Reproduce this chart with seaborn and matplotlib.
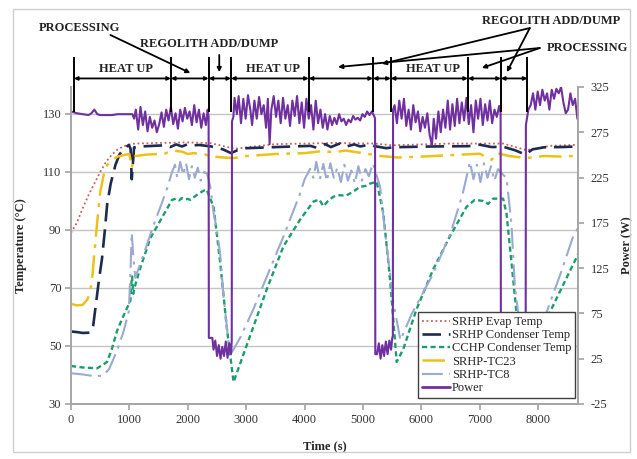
import matplotlib
matplotlib.use("Agg")
import matplotlib.pyplot as plt
from matplotlib.patches import Rectangle
from matplotlib.lines import Line2D
import seaborn as sns
import pandas as pd

# ---- data ------------------------------------------------------------------
evap_t = [0, 100, 200, 300, 400, 500, 600, 700, 800, 900, 1000, 1100, 1500, 2000,
          2400, 2800, 3500, 4500, 5200, 5500, 6500, 7400, 7800, 8200, 8690]
evap_temp = [89, 92.5, 97.5, 102, 106, 110, 113.5, 116, 117.8, 118.8, 119.5, 119.8, 120,
             120.2, 119.9, 118, 119.6, 120, 119.8, 119.2, 119.8, 119.8, 117.5, 119, 119.4]

cond_t = [0, 100, 200, 330, 380, 430, 480, 530, 580, 620, 680, 760, 830, 900, 990, 1020,
          1040, 1060, 1080, 1200, 1400, 1600, 1700, 1800, 1900, 2000, 2100, 2200, 2400,
          2600, 2740, 2850, 3000, 3400, 3800, 4100, 4200, 4350, 4450, 4600, 4700, 4850,
          4950, 5100, 5200, 5400, 5500, 5700, 6200, 6800, 7000, 7200, 7400, 7600, 7780,
          7900, 8100, 8400, 8690]
cond_temp = [55, 54.8, 54.5, 54.6, 57, 65, 73, 80, 90, 99, 106, 112.4, 116, 118, 119.3,
             118, 107.5, 113, 118.5, 118.8, 119, 119.2, 118.6, 119.5, 118.8, 119.6, 119.2,
             119.3, 118.8, 117.8, 116.5, 117.5, 118.2, 118.5, 118.8, 119, 118.4, 119.6,
             118.6, 119.8, 118.7, 119.5, 118.8, 119.4, 118.9, 118.2, 118.5, 118.6, 118.8,
             118.9, 119.4, 118.6, 118.7, 117.5, 116, 117.8, 118.5, 118.6, 118.8]

cchp_t = [0, 200, 448, 618, 700, 790, 900, 1017, 1035, 1046, 1065, 1100, 1188, 1359,
          1587, 1730, 1800, 1850, 1900, 1950, 2000, 2043, 2150, 2265, 2320, 2380, 2441,
          2555, 2669, 2783, 3068, 3354, 3638, 3923, 4151, 4250, 4322, 4400, 4493, 4600,
          4700, 4778, 4850, 4950, 5050, 5120, 5234, 5348, 5462, 5576, 5690, 5918, 6202,
          6487, 6772, 6914, 7056, 7142, 7227, 7398, 7456, 7570, 7627, 7780, 8197, 8690]
cchp_temp = [43.1, 42.6, 42.3, 44.5, 49, 55.3, 60.5, 65.6, 72, 74, 68, 71, 77, 87.2, 95.3,
             100.4, 100.8, 100.2, 101, 100.5, 100.7, 100.4, 102, 103.5, 104, 101, 98, 78.6,
             56, 37.6, 53.6, 69.7, 84.4, 93.6, 99.8, 100.5, 98.2, 100, 101.5, 102, 101.8,
             102.6, 103.5, 104.9, 105.2, 106, 106.6, 95.7, 73, 44.5, 49, 62.8, 76.5, 87.8,
             98, 100.4, 100, 99, 100.8, 100.8, 95.7, 73, 61.6, 44, 61.6, 82]

tc23_t = [0, 100, 200, 280, 330, 370, 400, 450, 500, 560, 620, 700, 800, 900, 1000, 1040,
          1070, 1100, 1300, 1600, 1750, 1900, 2000, 2100, 2300, 2400, 2600, 2800, 3000,
          3500, 4000, 4300, 4500, 4700, 5000, 5300, 5600, 6000, 6500, 7000, 7200, 7300,
          7500, 7800, 8100, 8400, 8690]
tc23_temp = [64.5, 64, 64.2, 66, 69, 75, 82, 93, 103, 109, 112.4, 114.2, 115.3, 115.8,
             116.2, 111.5, 114, 115.5, 116, 116.3, 117.4, 117, 116.2, 116.5, 116, 115.4, 115,
             114.8, 115.5, 116.2, 116.5, 117.2, 116.8, 117.4, 116.5, 115.5, 115, 115.3,
             115.8, 116.3, 114.2, 116.5, 115.5, 114.8, 115.5, 115.3, 115.6]

tc8_t = [0, 200, 400, 550, 650, 790, 900, 990, 1017, 1040, 1070, 1100, 1250, 1400, 1550,
         1645, 1730, 1780, 1820, 1870, 1920, 1970, 2020, 2070, 2120, 2170, 2220, 2280, 2330,
         2384, 2440, 2498, 2555, 2612, 2697, 2760, 2900, 3125, 3354, 3638, 3923, 4000,
         4094, 4150, 4200, 4260, 4320, 4380, 4440, 4500, 4560, 4620, 4680, 4740, 4800,
         4860, 4920, 4980, 5040, 5100, 5170, 5230, 5291, 5405, 5519, 5640, 5832, 6202,
         6500, 6700, 6772, 6830, 6890, 6950, 7010, 7070, 7130, 7190, 7250, 7310, 7400,
         7456, 7541, 7598, 7700, 7780, 7900, 8141, 8400, 8597, 8690]
tc8_temp = [40.6, 40.2, 39.6, 39.8, 42, 48.5, 55, 62, 75, 89, 80, 73.5, 82, 91, 99, 104.3,
            110, 112.5, 108, 113.5, 109, 113, 107.5, 112, 108, 111.5, 107, 110, 109.4, 104.9,
            96, 90, 81.6, 67, 51.3, 48, 53, 62.8, 74, 87.8, 102.6, 107.5, 111.1, 108, 113.5,
            107.5, 112.8, 106.8, 113, 108, 111.5, 106.5, 112.5, 107, 110.5, 106, 112, 107,
            111, 108.5, 113, 109, 105, 84.4, 65, 52, 61, 75, 89, 102, 108.3, 113.5, 107.5,
            112.5, 106.5, 113, 108, 112, 107, 111, 109, 108, 92, 71, 54, 50, 53, 61.6, 76,
            87.8, 91]

power_t = [0, 50, 100, 200, 300, 350, 400, 450, 500, 600, 700, 800, 900, 1000, 1050,
           1080, 1110, 1150, 1190, 1230, 1270, 1310, 1350, 1390, 1430, 1470, 1510, 1550,
           1590, 1630, 1670, 1710, 1750, 1790, 1830, 1870, 1910, 1950, 1990, 2030, 2070,
           2110, 2150, 2190, 2230, 2270, 2310, 2340, 2356,
           2360, 2420, 2440, 2470, 2500, 2530, 2560, 2590, 2620, 2650, 2680, 2710, 2740, 2752,
           2756, 2780, 2800, 2840, 2870, 2910, 2950, 2990, 3030, 3070, 3100, 3140, 3180,
           3220, 3260, 3300, 3340, 3370, 3400, 3430, 3470, 3510, 3550, 3590, 3630, 3670,
           3710, 3750, 3790, 3830, 3870, 3910, 3950, 3990, 4030, 4070, 4110, 4150, 4190,
           4230, 4270, 4310, 4350, 4390, 4430, 4470, 4510, 4550, 4590, 4630, 4670, 4710,
           4750, 4790, 4830, 4870, 4910, 4950, 4990, 5030, 5070, 5110, 5150, 5190, 5205,
           5210, 5240, 5270, 5300, 5330, 5360, 5390, 5420, 5450, 5480, 5500, 5510,
           5514, 5540, 5580, 5620, 5660, 5700, 5740, 5780, 5820, 5860, 5900, 5940, 5980,
           6020, 6060, 6100, 6140, 6180, 6210, 6250, 6290, 6330, 6370, 6410, 6450, 6490,
           6530, 6570, 6610, 6650, 6690, 6730, 6770, 6810, 6850, 6890, 6930, 6970, 7010,
           7050, 7090, 7130, 7170, 7210, 7250, 7290, 7330, 7355,
           7360, 7400, 7450, 7500, 7550, 7600, 7650, 7700, 7750, 7784,
           7788, 7830, 7870, 7910, 7950, 7990, 8030, 8070, 8110, 8150, 8190, 8230, 8270,
           8310, 8350, 8390, 8430, 8470, 8510, 8550, 8590, 8630, 8670, 8690]
power_w = [298, 297, 296, 295, 294, 296, 300, 295, 294, 294, 294, 295, 295, 295, 295,
           290, 300, 278, 303, 283, 298, 276, 292, 280, 288, 275, 284, 297, 281, 300, 288,
           303, 284, 296, 279, 300, 287, 302, 290, 298, 283, 305, 286, 300, 280, 296, 283,
           300, 292,
           48, 48, 35, 45, 28, 40, 25, 38, 28, 44, 26, 42, 30, 45,
           287, 292, 313, 295, 315, 285, 312, 290, 316, 300, 283, 310, 290, 314, 295, 305,
           280, 312, 262, 300, 315, 292, 310, 285, 313, 290, 305, 282, 310, 293, 315, 285,
           308, 280, 312, 290, 305, 278, 310, 285, 300, 280, 295, 278, 293, 283, 291, 284,
           295, 287, 290, 283, 289, 286, 293, 289, 291, 288, 295, 292, 298, 294, 298, 293,
           290,
           30, 30, 42, 25, 40, 28, 44, 30, 45, 35, 48, 50,
           300, 305, 285, 310, 290, 312, 282, 300, 278, 305, 286, 298, 276, 292, 280, 296,
           272, 261, 290, 268, 298, 275, 300, 280, 310, 278, 306, 282, 312, 285, 308, 288,
           313, 284, 305, 275, 310, 290, 312, 283, 306, 288, 310, 285, 300, 292, 304, 296,
           45, 35, 28, 40, 30, 42, 28, 38, 30, 45,
           283, 300, 305, 318, 300, 320, 305, 322, 310, 318, 300, 322, 312, 323, 318, 325,
           308, 296, 300, 318, 305, 312, 290, 288]

# phase boundaries (s) and the text over the top of the chart
phase_edges = [50, 1710, 2356, 2740, 4070, 5170, 5475, 6795, 7360, 7815]
heat_up_phases = [0, 3, 6]

sns.set_theme(style="white")
plt.rcParams["font.family"] = ["Liberation Serif", "DejaVu Serif"]
plt.rcParams["axes.unicode_minus"] = False

fig = plt.figure(figsize=(6.37, 4.59), dpi=100)
ax = fig.add_axes([71 / 637, 55 / 459, 507 / 637, 317 / 459])
ax2 = ax.twinx()

series = [
    ("SRHP Evap Temp", evap_t, evap_temp, dict(color="#c8605a", lw=1.3, linestyle=(0, (1, 1.5)))),
    ("SRHP Condenser Temp", cond_t, cond_temp, dict(color="#1f2a50", lw=1.9, linestyle=(0, (7, 3)))),
    ("CCHP Condenser Temp", cchp_t, cchp_temp, dict(color="#1c9e6c", lw=1.7, linestyle=(0, (2.2, 1.4)))),
    ("SRHP-TC23", tc23_t, tc23_temp, dict(color="#eec11a", lw=1.8, linestyle=(0, (9, 3, 1.5, 3)))),
    ("SRHP-TC8", tc8_t, tc8_temp, dict(color="#9aabcf", lw=1.5, linestyle=(0, (10, 3, 1.5, 3)))),
]
handles = []
for name, t, v, style in series:
    df = pd.DataFrame({"t": t, "v": v})
    sns.lineplot(data=df, x="t", y="v", ax=ax, estimator=None, sort=False, **style)
    handles.append(Line2D([], [], label=name, **style))

pw = pd.DataFrame({"t": power_t, "w": power_w})
sns.lineplot(data=pw, x="t", y="w", ax=ax2, estimator=None, sort=False, color="#7030a0", lw=1.5)
handles.append(Line2D([], [], color="#7030a0", lw=2, label="Power"))

ax.set_xlim(0, 8680)
ax.set_ylim(30, 139.3)
ax2.set_ylim(-25, 325)
ax.set_xticks(range(0, 9000, 1000))
ax.set_yticks(range(30, 140, 20))
ax2.set_yticks(range(-25, 326, 50))
ax.grid(axis="y", color="#c4c4c4", lw=1)
ax.grid(axis="x", visible=False)
ax2.grid(False)

for a in (ax, ax2):
    for s in a.spines.values():
        s.set_color("#a6a6a6")
    a.spines["top"].set_visible(False)
    a.tick_params(labelsize=9, colors="#333333", length=4, direction="out")
ax.tick_params(axis="both", which="both", bottom=True, left=True, color="#a6a6a6", pad=3)
ax2.tick_params(axis="y", right=True, color="#a6a6a6", pad=5)

ax.set_xlabel("Time (s)", fontsize=9, fontweight="bold")
ax.set_ylabel("Temperature (°C)", fontsize=9, fontweight="bold")
ax2.set_ylabel("Power (W)", fontsize=9, fontweight="bold")
ax.xaxis.set_label_coords(0.5, -0.114)
ax.yaxis.set_label_coords(-0.087, 0.5)
ax2.yaxis.set_label_coords(1.085, 0.5)

leg = ax2.legend(handles=handles, loc="lower right", bbox_to_anchor=(0.994, 0.019),
                 borderaxespad=0, fontsize=9, fancybox=False, handlelength=2.3,
                 handletextpad=0.1, labelspacing=0.1, borderpad=0.3, framealpha=1)
leg.get_frame().set_edgecolor("#404040")
leg.get_frame().set_linewidth(1)

# phase annotations above the plot
tr = ax2.get_xaxis_transform()
ax2.vlines(phase_edges, 0.922, 1.096, transform=tr, color="black", lw=1.4, clip_on=False)
for a, b in zip(phase_edges[:-1], phase_edges[1:]):
    ax2.annotate("", xy=(a, 1.027), xytext=(b, 1.027), xycoords=tr, annotation_clip=False,
                 arrowprops=dict(arrowstyle="<|-|>", color="black", lw=1.3, mutation_scale=5,
                                 shrinkA=0, shrinkB=0))
for i in heat_up_phases:
    ax2.text((phase_edges[i] + phase_edges[i + 1]) / 2 + 60, 1.056, "HEAT UP", transform=tr,
             ha="center", va="center", fontsize=9, fontweight="bold", color="#222222")

txt = dict(fontsize=9, fontweight="bold", color="#222222", transform=tr, va="center")
arrow = dict(arrowstyle="-|>", color="black", lw=1.3, mutation_scale=6, shrinkA=0, shrinkB=0)
ax2.text(145, 1.186, "PROCESSING", ha="center", **txt)
ax2.annotate("", xy=(2043, 1.044), xytext=(675, 1.164), xycoords=tr, annotation_clip=False,
             arrowprops=arrow)
ax2.text(2367, 1.136, "REGOLITH ADD/DUMP", ha="center", **txt)
ax2.annotate("", xy=(2538, 1.047), xytext=(2538, 1.101), xycoords=tr, annotation_clip=False,
             arrowprops=arrow)
ax2.text(8213, 1.208, "REGOLITH ADD/DUMP", ha="center", **txt)
for x, y in [(5324, 1.073), (7462, 1.047)]:
    ax2.annotate("", xy=(x, y), xytext=(7855, 1.186), xycoords=tr, annotation_clip=False,
                 arrowprops=arrow)
ax2.text(8838, 1.123, "PROCESSING", ha="center", **txt)
for x, y in [(4573, 1.063), (7034, 1.060)]:
    ax2.annotate("", xy=(x, y), xytext=(8026, 1.123), xycoords=tr, annotation_clip=False,
                 arrowprops=arrow)

fig.patches.append(Rectangle((13 / 637, 7 / 459), 617 / 637, 443 / 459, transform=fig.transFigure,
                             fill=False, edgecolor="#cfcfcf", lw=1))

fig.savefig("out.png", dpi=100)
